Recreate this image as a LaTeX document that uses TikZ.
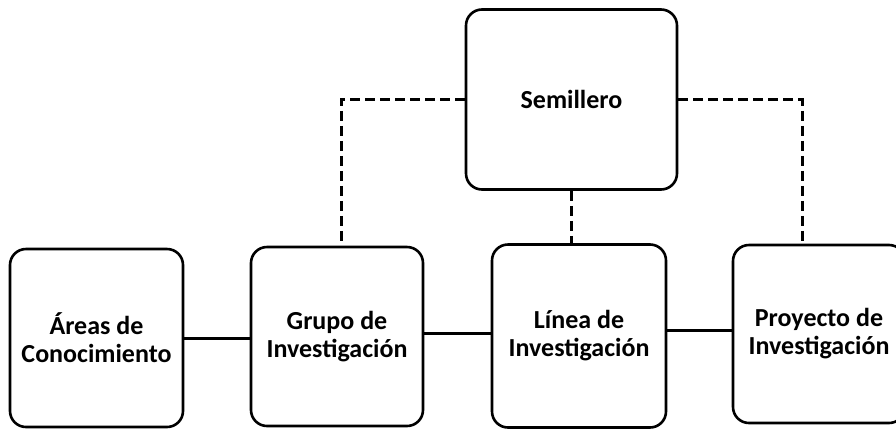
\documentclass[tikz,border=0pt]{standalone}
\usepackage{fontspec}
\setmainfont{Carlito}
\begin{document}
\begin{tikzpicture}[x=1pt,y=-1pt,
  box/.style={draw=black, line width=2.6pt, rounded corners=16pt, align=center,
    font=\bfseries\fontsize{26}{28}\selectfont, inner sep=0pt},
  link/.style={line width=3pt},
  dlink/.style={line width=3pt, dash pattern=on 10pt off 5pt}]
\useasboundingbox (0,0) rectangle (896,429);
\node[box, minimum width=173pt, minimum height=178pt] (areas) at (96.5,338) {Áreas de\\Conocimiento};
\node[box, minimum width=172pt, minimum height=179pt] (grupo) at (337,336.5) {Grupo de\\Investigación};
\node[box, minimum width=174pt, minimum height=183pt] (linea) at (579,336) {Línea de\\Investigación};
\node[box, minimum width=172pt, minimum height=178pt] (proy) at (819,334) {Proyecto de\\Investigación};
\node[box, minimum width=211pt, minimum height=180pt] (sem) at (571.5,99.5) {\raisebox{-2pt}{Semillero}};
\draw[link] (areas.east) -- (areas.east -| grupo.west);
\draw[link] (grupo.east |- 0,333) -- (linea.west |- 0,333);
\draw[link] (linea.east |- 0,330) -- (proy.west |- 0,330);
\draw[dlink] (sem.west) -| ([xshift=4pt]grupo.north);
\draw[dlink] (sem.east) -| ([xshift=-17pt]proy.north);
\draw[dlink] (sem.south) -- (sem.south |- linea.north);
\end{tikzpicture}
\end{document}
